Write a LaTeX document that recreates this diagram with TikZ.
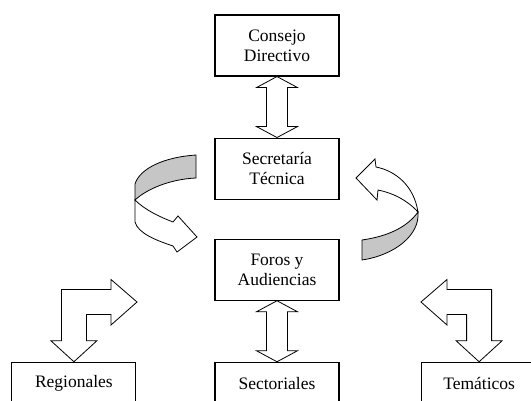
\documentclass[tikz,border=0pt]{standalone}
\usepackage{fontspec}
\setmainfont{Liberation Serif}
\usetikzlibrary{positioning}
\usetikzlibrary{calc}

\begin{document}
\begin{tikzpicture}[x=1pt,y=-1pt,thick,
  box/.style={rectangle,draw,line width=1.1pt,minimum width=124pt,minimum height=61pt,inner sep=0pt,align=center,font=\fontsize{17.5}{20}\selectfont},
  leaf/.style={box,minimum height=42pt},
  blockarrow/.style={draw,line width=0.8pt,fill=white,line join=miter},
  twist/.style={draw,line width=0.8pt,fill=gray!45,line join=miter}]
\useasboundingbox (0,0) rectangle (531,400);

\node[box] (consejo) at (277,45.5) {Consejo\\Directivo};
\node[box] (secretaria) [below=61pt of consejo] {Secretaría\\Técnica};
\node[box] (foros) [below=39pt of secretaria] {Foros y\\Audiencias};
\node[leaf] (sectoriales) [below=61pt of foros] {Sectoriales};
\node[leaf] (regionales) [left=78pt of sectoriales] {Regionales};
\node[leaf,minimum width=116pt] (tematicos) [right=81pt of sectoriales] {Temáticos};

\coordinate (regtip) at (137,302);
\coordinate (temtip) at (421,302);

% double block arrows
\foreach \a/\b in {consejo/secretaria,foros/sectoriales}
  \draw[blockarrow] (\a.south) -- ++(-20.5,11) -- ++(10,0) -- ($(\b.north)+(-10.5,-11)$) -- ++(-10,0)
    -- (\b.north) -- ++(20.5,-11) -- ++(-10,0) -- ($(\a.south)+(10.5,11)$) -- ++(10,0) -- cycle;

% bent arrows
\draw[blockarrow] (regionales.north) -- ++(-23,-21) -- ++(10.5,0) |- ($(regtip)+(-26,-12.5)$) -- ++(0,-10)
  -- (regtip) -- ++(-26,23) -- ++(0,-10.5) -| ($(regionales.north)+(12.5,-21)$) -- ++(10.5,0) -- cycle;
\draw[blockarrow] (tematicos.north) -- ++(23,-21) -- ++(-10.5,0) |- ($(temtip)+(26,-12.5)$) -- ++(0,-10)
  -- (temtip) -- ++(26,23) -- ++(0,-10.5) -| ($(tematicos.north)+(-12.5,-21)$) -- ++(-10.5,0) -- cycle;

% curved arrows
\draw[twist] (196,155) .. controls (165,157) and (140,168) .. (135,184) -- (135,200)
  .. controls (148,188) and (172,179) .. (196,178) -- cycle;
\draw[blockarrow] (135,200) .. controls (145,210) and (160,217) .. (173,222) -- (178,216) -- (197,237)
  -- (177,252) -- (173,246) .. controls (155,240) and (138,233) .. (135,222) -- cycle;
\draw[blockarrow] (356,178) -- (375,159) -- (376,167) .. controls (396,171) and (414,186) .. (418,212)
  .. controls (407,200) and (393,193) .. (378,190) -- (377,200) -- cycle;
\draw[twist] (418,212) .. controls (420,235) and (395,255) .. (362,260) -- (362,240)
  .. controls (390,236) and (408,226) .. (418,212) -- cycle;
\end{tikzpicture}
\end{document}
